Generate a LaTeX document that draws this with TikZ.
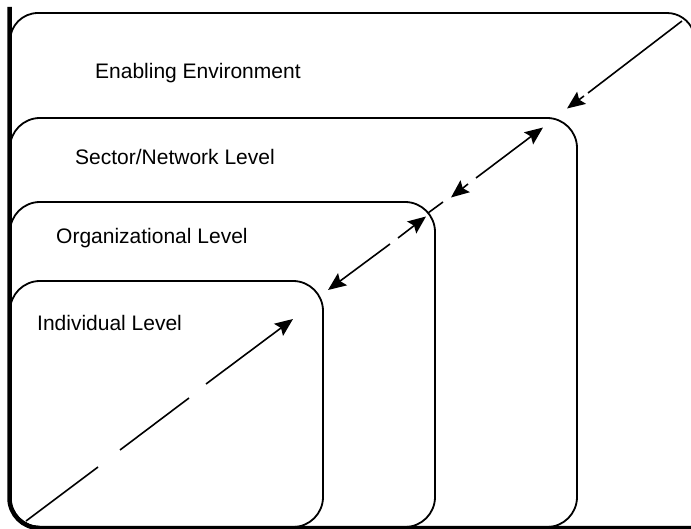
\documentclass[tikz,border=0pt]{standalone}
\usepackage{fontspec}
\setmainfont{Liberation Sans}
\usetikzlibrary{arrows.meta}
\begin{document}
\begin{tikzpicture}[x=1pt,y=-1pt,
  level/.style={draw=black,line width=1.8pt,rounded corners=30pt},
  lbl/.style={anchor=base west,inner sep=0pt,font=\fontsize{21pt}{25pt}\selectfont},
  arr/.style={line width=1.6pt,-{Stealth[length=18pt,width=15pt,inset=3pt]}},
  seg/.style={line width=1.6pt}]
\useasboundingbox (0,0) rectangle (691,529);
\clip (0,0) rectangle (691,529);
% nested levels: outer one's right side runs beyond the picture
\draw[level,rounded corners=28pt] (10,300) -- (10,13) -- (667,13);
\draw[level,rounded corners=0pt] (667,13) arc[start angle=-90,end angle=-22,radius=28];
\draw[level] (10,118) rectangle (577,527);
\draw[level] (10,202) rectangle (435,527);
\draw[level] (10,281) rectangle (323,527);
% thick left and bottom frame
\draw[line width=4.5pt,rounded corners=30pt] (9.5,7) -- (9.5,528) -- (700,528);
% labels
\node[lbl] (env) at (95,79) {Enabling Environment};
\node[lbl] (sec) at (75,165) {Sector/Network Level};
\node[lbl] (org) at (56,244) {Organizational Level};
\node[lbl] (ind) at (37,331) {Individual Level};
% coordinates of the diagonal
\coordinate (a1s) at (26,521);
\coordinate (a1g1) at (98,467);
\coordinate (a1g2) at (120,450);
\coordinate (a1g3) at (189,398);
\coordinate (a1g4) at (206,384);
\coordinate (a1t) at (293,319);
\coordinate (a2t1) at (328,290);
\coordinate (a2g1) at (390,244);
\coordinate (a2g2) at (398,238);
\coordinate (a2t2) at (426,216.5);
\coordinate (d1) at (428,213);
\coordinate (d2) at (443,202);
\coordinate (a3t1) at (451,197.5);
\coordinate (a3g1) at (468,184);
\coordinate (a3g2) at (476,178);
\coordinate (a3t2) at (543,127.5);
\coordinate (a4s) at (682,21);
\coordinate (a4g) at (588,93);
\coordinate (a4h) at (584,96);
\coordinate (a4t) at (567,108.5);
% arrows
\draw[seg] (a1s) -- (a1g1);
\draw[seg] (a1g2) -- (a1g3);
\draw[arr] (a1g4) -- (a1t);
\draw[arr] (a2g1) -- (a2t1);
\draw[arr] (a2g2) -- (a2t2);
\draw[seg] (d1) -- (d2);
\draw[arr] (a3g1) -- (a3t1);
\draw[arr] (a3g2) -- (a3t2);
\draw[seg] (a4s) -- (a4g);
\draw[arr] (a4h) -- (a4t);
\end{tikzpicture}
\end{document}
